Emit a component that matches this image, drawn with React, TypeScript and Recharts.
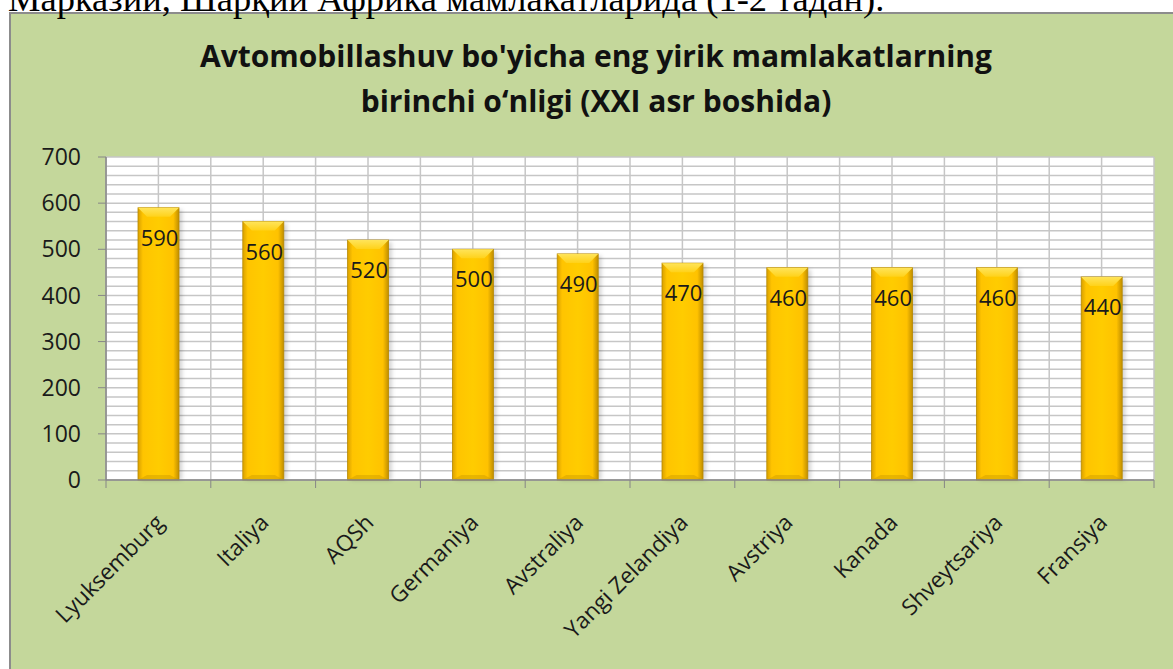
import React from 'react'
import { BarChart, Bar, XAxis, YAxis, CartesianGrid, LabelList } from 'recharts'

const CATEGORIES = [
  'Lyuksemburg',
  'Italiya',
  'AQSh',
  'Germaniya',
  'Avstraliya',
  'Yangi Zelandiya',
  'Avstriya',
  'Kanada',
  'Shveytsariya',
  'Fransiya',
]
const VALUES = [590, 560, 520, 500, 490, 470, 460, 460, 460, 440]
const Y_TICKS = [0, 100, 200, 300, 400, 500, 600, 700]
const GRID_TICKS = Array.from({ length: 36 }, (_, i) => i * 20)

const TITLE_1 = "Avtomobillashuv bo'yicha eng yirik mamlakatlarning"
const TITLE_2 = 'birinchi o‘nligi (XXI asr boshida)'
const HEADER = 'Марказий, Шарқий Африка мамлакатларида (1-2 тадан).'

const data = CATEGORIES.map((name, i) => ({ name, value: VALUES[i] }))

const FONT = '"Open Sans", sans-serif'
const AXIS_GRAY = '#868686'

function GoldBar(props: any) {
  const { x, y, width, height } = props
  if (!height || height <= 0) return null
  const b = 9
  return (
    <g>
      <rect x={x + 3} y={y + 2} width={width} height={height - 2} fill="rgba(0,0,0,0.18)" filter="url(#barShadow)" />
      <rect x={x} y={y} width={width} height={height} fill="url(#goldSide)" stroke="#B88A00" strokeWidth={0.8} />
      <polygon
        points={`${x},${y} ${x + width},${y} ${x + width - b},${y + b} ${x + b},${y + b}`}
        fill="url(#goldTop)"
      />
      <polygon
        points={`${x},${y + height} ${x + width},${y + height} ${x + width - b},${y + height - 5} ${x + b},${y + height - 5}`}
        fill="rgba(190,140,0,0.35)"
      />
    </g>
  )
}

function XTick(props: any) {
  const { x, y, payload, index, width } = props
  const band = (width || 1048) / CATEGORIES.length
  const ax = x + 7
  const ay = y + 44
  return (
    <g>
      <line x1={x - band / 2} y1={y} x2={x - band / 2} y2={y + 8} stroke={AXIS_GRAY} strokeWidth={1} />
      {index === CATEGORIES.length - 1 && (
        <line x1={x + band / 2} y1={y} x2={x + band / 2} y2={y + 8} stroke={AXIS_GRAY} strokeWidth={1} />
      )}
      <text
        x={ax}
        y={ay}
        textAnchor="end"
        transform={`rotate(-45 ${ax} ${ay})`}
        fontFamily={FONT}
        fontSize={22.5}
        fill="#1a1a1a"
      >
        {payload.value}
      </text>
    </g>
  )
}

function BarValue(props: any) {
  const { x, y, width, value } = props
  return (
    <text x={x + width / 2 + 1} y={y + 38} textAnchor="middle" fontFamily={FONT} fontSize={22} fill="#1a1a1a">
      {value}
    </text>
  )
}

export default function App() {
  const n = CATEGORIES.length
  return (
    <div style={{ position: 'absolute', left: 0, top: 0, width: 1173, height: 669, overflow: 'hidden', background: '#fff' }}>
      <div
        style={{
          position: 'absolute',
          left: 9,
          top: 12,
          width: 1200,
          height: 700,
          background: '#C4D79B',
          border: '2px solid #8C8C8C',
        }}
      />
      <svg width={1173} height={669} style={{ position: 'absolute', left: 0, top: 0 }}>
        <text x={8} y={11} fontFamily='"Liberation Serif", serif' fontSize={36.5} fill="#000">
          {HEADER}
        </text>
        <text x={596} y={67} textAnchor="middle" fontFamily={FONT} fontWeight={700} fontSize={30} fill="#111">
          {TITLE_1}
        </text>
        <text x={596} y={112} textAnchor="middle" fontFamily={FONT} fontWeight={700} fontSize={30} fill="#111">
          {TITLE_2}
        </text>
      </svg>
      <div style={{ position: 'absolute', left: 0, top: 0 }}>
        <BarChart
          width={1173}
          height={669}
          data={data}
          margin={{ top: 157, right: 19, bottom: 39, left: 46 }}
        >
          <defs>
            <linearGradient id="goldSide" x1="0" y1="0" x2="1" y2="0">
              <stop offset="0%" stopColor="#D9A000" />
              <stop offset="12%" stopColor="#FFC400" />
              <stop offset="50%" stopColor="#FFCC00" />
              <stop offset="86%" stopColor="#FFC200" />
              <stop offset="100%" stopColor="#C08E00" />
            </linearGradient>
            <linearGradient id="goldTop" x1="0" y1="0" x2="0" y2="1">
              <stop offset="0%" stopColor="#FFE45A" />
              <stop offset="100%" stopColor="#FFD21A" />
            </linearGradient>
            <filter id="barShadow" x="-30%" y="-10%" width="160%" height="120%">
              <feGaussianBlur stdDeviation="2" />
            </filter>
          </defs>
          <CartesianGrid
            fill="#FFFFFF"
            stroke="#C6C6C6"
            strokeWidth={1.5}
            horizontalCoordinatesGenerator={({ yAxis, offset }: any) =>
              yAxis && typeof yAxis.scale === 'function'
                ? GRID_TICKS.map((v) => yAxis.scale(v))
                : GRID_TICKS.map((v) => offset.top + offset.height * (1 - v / 700))
            }
            verticalCoordinatesGenerator={({ offset }: any) =>
              Array.from({ length: 2 * n + 1 }, (_, k) => offset.left + (offset.width * k) / (2 * n))
            }
          />
          <XAxis
            dataKey="name"
            interval={0}
            tickLine={false}
            tickSize={0}
            tickMargin={0}
            height={150}
            axisLine={{ stroke: AXIS_GRAY, strokeWidth: 1.5 }}
            tick={<XTick />}
          />
          <YAxis
            domain={[0, 700]}
            ticks={Y_TICKS}
            width={60}
            tickSize={8}
            tickMargin={17}
            axisLine={{ stroke: AXIS_GRAY, strokeWidth: 1.5 }}
            tickLine={{ stroke: AXIS_GRAY }}
            tick={{ fontFamily: FONT, fontSize: 23, fill: '#1a1a1a' }}
          />
          <Bar dataKey="value" barSize={41} shape={<GoldBar />} isAnimationActive={false}>
            <LabelList dataKey="value" content={<BarValue />} />
          </Bar>
        </BarChart>
      </div>
    </div>
  )
}
